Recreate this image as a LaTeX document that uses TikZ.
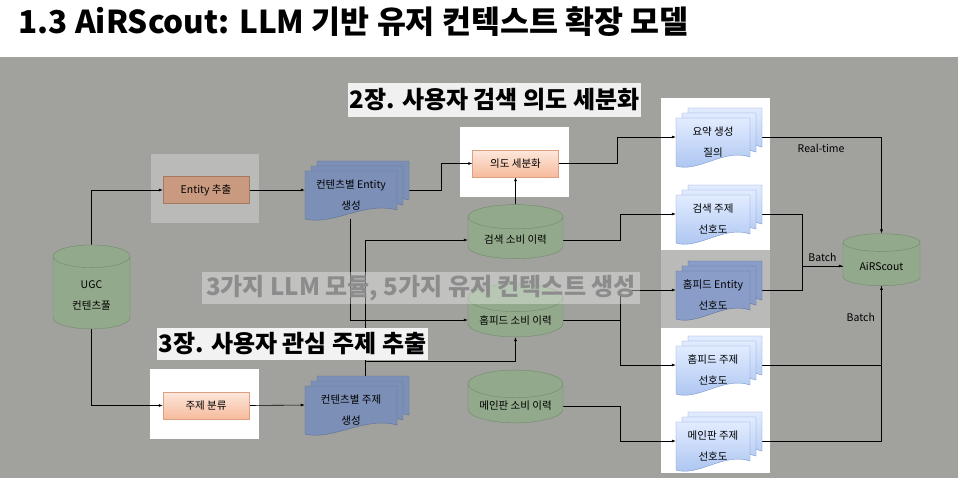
\documentclass[tikz,border=0pt]{standalone}
\usepackage{fontspec}
\setmainfont{Noto Sans CJK KR}
\usetikzlibrary{shapes.geometric, arrows.meta}

\definecolor{panelgray}{RGB}{161,162,158}
\definecolor{spotgray}{RGB}{186,187,184}
\definecolor{dimgreen}{RGB}{146,170,139}
\definecolor{dimgreenline}{RGB}{112,138,106}
\definecolor{dimblue}{RGB}{124,143,182}
\definecolor{dimblueline}{RGB}{94,112,150}
\definecolor{midblue}{RGB}{138,157,200}
\definecolor{lightblue}{RGB}{226,236,255}
\definecolor{deepblue}{RGB}{168,194,240}
\definecolor{blueline}{RGB}{120,150,205}
\definecolor{dimorange}{RGB}{201,154,128}
\definecolor{dimorangeline}{RGB}{165,120,96}
\definecolor{lightorange}{RGB}{253,232,220}
\definecolor{deeporange}{RGB}{246,186,156}
\definecolor{orangeline}{RGB}{222,160,130}

\pgfdeclarelayer{bg}
\pgfdeclarelayer{edges}
\pgfdeclarelayer{fg}
\pgfsetlayers{bg,edges,main,fg}

% stack of three pages, front page centred at (#2,#3), width #4
\newcommand{\pages}[6]{%
  \foreach \d in {12,6,0}
    \draw[#5] ({#2-#4/2+\d},{#3-24-\d*5/6}) -- ({#2+#4/2+\d},{#3-24-\d*5/6})
      -- ({#2+#4/2+\d},{#3+15-\d*5/6})
      .. controls ({#2+\d+0.15*#4},{#3+6-\d*5/6}) and ({#2+\d-0.2*#4},{#3+31-\d*5/6}) .. ({#2-#4/2+\d},{#3+24-\d*5/6}) -- cycle;
  \node[doc, minimum width=#4 pt] (#1) at (#2,#3) {#6};
}

\begin{document}
\begin{tikzpicture}[x=1pt, y=-1pt,
  arr/.style={-{Latex[length=4pt,width=3pt]}, line width=0.6pt},
  line/.style={line width=0.6pt},
  box/.style={rectangle, minimum width=86pt, minimum height=27pt, font=\fontsize{10.5}{13}\selectfont},
  db/.style={cylinder, shape border rotate=90, draw=dimgreenline, fill=dimgreen, align=center, font=\fontsize{10.5}{21}\selectfont},
  doc/.style={minimum height=48pt, align=center, inner sep=0pt, font=\fontsize{10.5}{21}\selectfont},
  stage/.style={inner sep=0pt, font=\fontsize{24}{28}\selectfont\bfseries},
  lbl/.style={font=\fontsize{10.5}{13}\selectfont}]

\begin{pgfonlayer}{bg}
\fill[white] (0,0) rectangle (966,480);
\fill[panelgray] (0,57) rectangle (958,478);
\fill[spotgray] (151,154) rectangle (259,223);
\fill[white] (460,127) rectangle (569,197);
\fill[white] (150,369) rectangle (259,439);
\fill[white] (661,98) rectangle (770,250);
\fill[spotgray] (661,250) rectangle (770,328);
\fill[white] (661,328) rectangle (770,473);
\end{pgfonlayer}
\node[anchor=west, font=\fontsize{31.5}{34}\selectfont\bfseries] (title) at (15,22) {1.3 AiRScout: LLM 기반 유저 컨텍스트 확장 모델};

% sources and LLM modules
\node[db, aspect=0.5, minimum width=77pt, minimum height=84pt] (ugc) at (91.5,295) {UGC\\컨텐츠풀};
\node[box, draw=dimorangeline, fill=dimorange] (ext) at (206,190) {Entity 추출};
\node[box, draw=orangeline, top color=lightorange, bottom color=deeporange] (cls) at (206,405.5) {주제 분류};
\node[box, draw=orangeline, top color=lightorange, bottom color=deeporange] (int) at (515.5,163.5) {의도 세분화};

\pages{ent}{351}{195}{92}{draw=dimblueline, fill=dimblue}{컨텐츠별 Entity\\생성}
\pages{top}{351}{410}{92}{draw=dimblueline, fill=dimblue}{컨텐츠별 주제\\생성}

% consumption logs
\node[db, aspect=0.35, minimum width=95pt, minimum height=54pt] (shist) at (515.5,240) {검색 소비 이력};
\node[db, aspect=0.35, minimum width=95pt, minimum height=50pt] (hhist) at (515.5,320) {홈피드 소비 이력};
\node[db, aspect=0.35, minimum width=95pt, minimum height=52pt] (mhist) at (515.5,406) {메인판 소비 이력};

% user contexts
\pages{q}{713}{142}{74}{draw=blueline, top color=lightblue, bottom color=deepblue}{요약 생성\\질의}
\pages{srch}{713}{219}{74}{draw=blueline, top color=lightblue, bottom color=deepblue}{검색 주제\\선호도}
\pages{hent}{713}{295}{74}{draw=dimblueline, fill=midblue}{홈피드 Entity\\선호도}
\pages{hpref}{713}{370}{74}{draw=blueline, top color=lightblue, bottom color=deepblue}{홈피드 주제\\선호도}
\pages{mpref}{713}{446}{74}{draw=blueline, top color=lightblue, bottom color=deepblue}{메인판 주제\\선호도}

\node[db, aspect=0.35, minimum width=77pt, minimum height=52pt] (air) at (881.5,266) {AiRScout};

\begin{pgfonlayer}{edges}
\draw[arr] (ugc.north) |- (ext.west);
\draw[arr] (ugc.south) |- (cls.west);
\draw[arr] (ext.east) -- ([yshift=5pt]ent.west);
\draw[arr] (cls.east) -- ([yshift=5pt]top.west);
\draw[arr] ([yshift=5pt]ent.east) -- ++(44,0) |- (int.west);
\draw[arr] (shist.north) -- (int.south);
\draw[arr] (int.east) -- ++(59,0) |- ([yshift=5pt]q.west);
\draw[arr] (shist.east) -- ++(57,0) |- ([yshift=5pt]srch.west);
\draw[arr] ([xshift=-1pt]ent.south) |- (hhist.west);
\draw[arr] ([xshift=14pt]top.north) |- (shist.west);
\draw[arr] ([xshift=14pt]top.north) -- ++(0,-25) -| (hhist.south);
\draw[arr] (hhist.east) -- ++(57,0) |- ([yshift=5pt]hent.west);
\draw[arr] (hhist.east) -- ++(57,0) |- ([yshift=5pt]hpref.west);
\draw[arr] (mhist.east) -- ++(57,0) |- ([yshift=5pt]mpref.west);
\draw[arr] ([yshift=5pt]q.east) -| node[lbl, pos=0.27, below=4pt] {Real-time} (air.north);
\draw[arr] ([yshift=5pt]srch.east) -- ++(52,0) |- node[lbl, pos=0.75, above=1pt] {Batch} (air.west);
\draw[line] ([yshift=5pt]hent.east) -- ++(52,0) |- (air.west);
\draw[arr] ([yshift=5pt]hpref.east) -| node[lbl, pos=0.8, left=3pt] {Batch} (air.south);
\draw[line] ([yshift=5pt]mpref.east) -| (air.south);
\end{pgfonlayer}

% chapter captions
\begin{pgfonlayer}{fg}
\node[stage, fill=white!94!black, minimum width=293pt, minimum height=34pt] (ch2) at (494.5,100) {2장. 사용자 검색 의도 세분화};
\node[stage, fill=white, fill opacity=0.35, text opacity=1, text=black!45, minimum width=438pt, minimum height=32pt] (llm) at (421,288) {3가지 LLM 모듈, 5가지 유저 컨텍스트 생성};
\node[stage, fill=white!95!black, minimum width=271pt, minimum height=32pt] (ch3) at (292.5,344) {3장. 사용자 관심 주제 추출};
\end{pgfonlayer}
\end{tikzpicture}
\end{document}
